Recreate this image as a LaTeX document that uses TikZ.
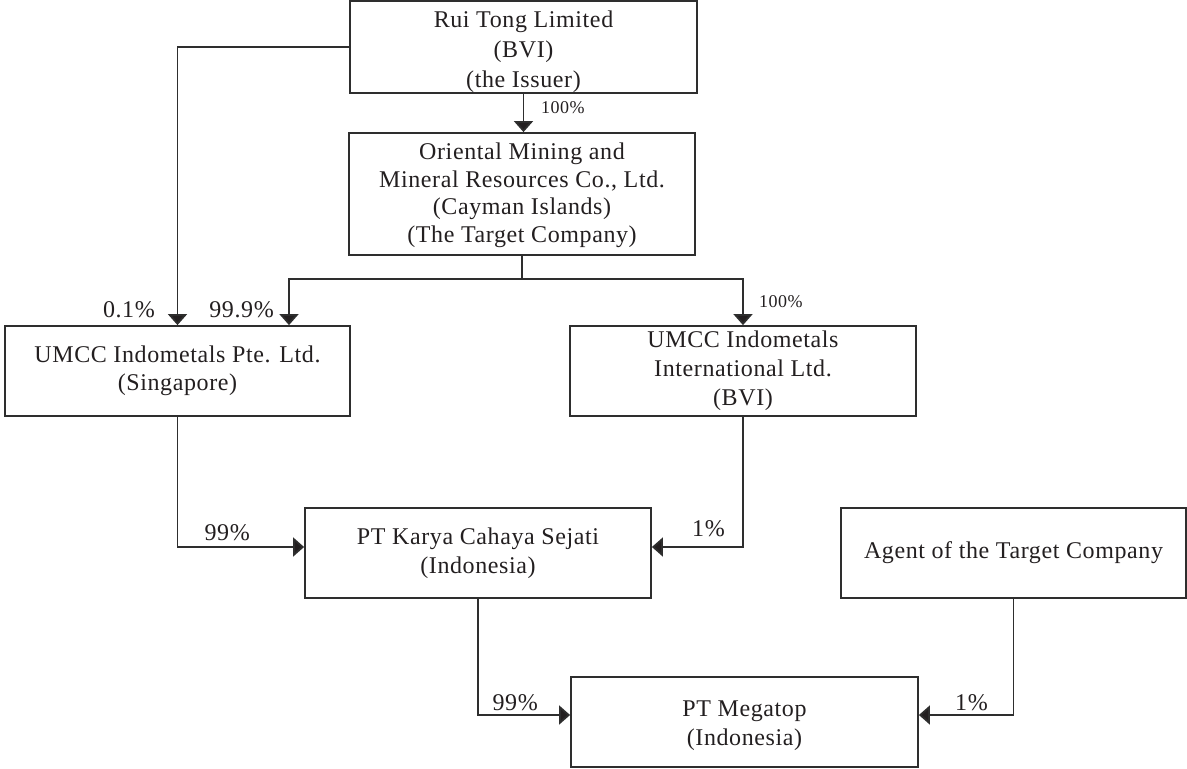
\documentclass[tikz,border=0pt]{standalone}
\usepackage{fontspec}
\setmainfont{Liberation Serif}[LetterSpace=2.5]
\usetikzlibrary{arrows.meta}
\definecolor{ink}{HTML}{231F20}
\definecolor{edge}{HTML}{2E2E2E}
\newcommand\topgap[1]{\rule{0pt}{#1}}
\begin{document}
\begin{tikzpicture}[x=1pt,y=-1pt,
  box/.style={draw=edge, line width=1.8pt, align=center, inner sep=0pt,
    font=\fontsize{24}{29}\selectfont, text=ink},
  conn/.style={draw=edge, line width=1.8pt, -{Triangle[width=19pt,length=11pt,fill=ink]}},
  plain/.style={draw=edge, line width=1.8pt},
  lab/.style={font=\fontsize{24}{29}\selectfont, inner sep=0pt, text=ink},
  small/.style={font=\fontsize{18}{22}\selectfont, inner sep=0pt, text=ink}]
\useasboundingbox (0,0) rectangle (1187,769);

\node[box, minimum width=347pt, minimum height=90pt, font=\fontsize{24}{30}\selectfont] (rui) at (523.5,47)
  {\topgap{27pt}Rui Tong Limited\\(BVI)\\(the Issuer)};
\node[box, minimum width=346pt, minimum height=122pt, font=\fontsize{24}{27.5}\selectfont] (ori) at (522,194)
  {\topgap{19pt}Oriental Mining and\\Mineral Resources Co., Ltd.\\(Cayman Islands)\\(The Target Company)};
\node[box, minimum width=345pt, minimum height=90pt, font=\fontsize{24}{28}\selectfont] (pte) at (177.5,371)
  {UMCC Indometals Pte. Ltd.\\(Singapore)};
\node[box, minimum width=346pt, minimum height=90pt, font=\fontsize{24}{29}\selectfont] (intl) at (743,371)
  {UMCC Indometals\\International Ltd.\\(BVI)};
\node[box, minimum width=346pt, minimum height=90pt] (karya) at (478,553)
  {PT Karya Cahaya Sejati\\(Indonesia)};
\node[box, minimum width=345pt, minimum height=90pt] (agent) at (1013.5,553)
  {Agent of the Target Company};
\node[box, minimum width=347pt, minimum height=90pt] (mega) at (744.5,722)
  {\topgap{23pt}PT Megatop\\(Indonesia)};

% connectors
\draw[conn] (rui.south) -- (rui.south |- ori.north);
\draw[conn] (rui.west) -| (pte.north);
\coordinate (split) at (522,279);
\draw[plain] (ori.south) -- (split);
\draw[conn] (split) -| ([xshift=111.5pt]pte.north);
\draw[conn] (split) -| (intl.north);
\draw[conn] (pte.south) |- ([yshift=6pt]karya.west);
\draw[conn] (intl.south) |- ([yshift=6pt]karya.east);
\draw[conn] (karya.south) |- ([yshift=7pt]mega.west);
\draw[conn] (agent.south) |- ([yshift=7pt]mega.east);

% labels
\node[small, anchor=west] (l1) at (541,108) {100\%};
\node[lab, anchor=east] (l2) at (155,310) {0.1\%};
\node[lab, anchor=east] (l3) at (274,310) {99.9\%};
\node[small, anchor=west] (l4) at (759,302) {100\%};
\node[lab, anchor=east] (l5) at (250,533) {99\%};
\node[lab, anchor=east] (l6) at (725,529) {1\%};
\node[lab, anchor=east] (l7) at (538,703) {99\%};
\node[lab, anchor=east] (l8) at (988,703) {1\%};
\end{tikzpicture}
\end{document}
